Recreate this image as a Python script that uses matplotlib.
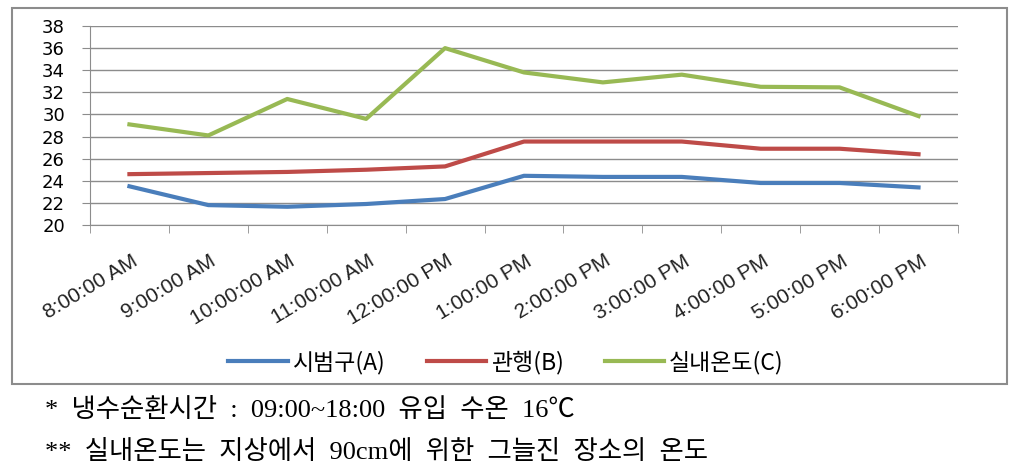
import matplotlib.pyplot as plt
from matplotlib.patches import Rectangle
from matplotlib.transforms import ScaledTranslation

# 데이터
times = ["8:00:00 AM", "9:00:00 AM", "10:00:00 AM", "11:00:00 AM", "12:00:00 PM",
         "1:00:00 PM", "2:00:00 PM", "3:00:00 PM", "4:00:00 PM", "5:00:00 PM", "6:00:00 PM"]
plot_a = [23.5, 21.8, 21.65, 21.9, 22.35, 24.45, 24.35, 24.35, 23.8, 23.8, 23.4]
plot_b = [24.6, 24.7, 24.8, 25.0, 25.3, 27.55, 27.55, 27.55, 26.9, 26.9, 26.4]
plot_c = [29.1, 28.1, 31.4, 29.6, 36.0, 33.8, 32.9, 33.6, 32.5, 32.45, 29.85]
yticks = list(range(20, 39, 2))
note1 = "*\u2002냉수순환시간\u2002:\u200209:00~18:00\u2002유입\u2002수온\u200216℃"
note2 = "**\u2002실내온도는\u2002지상에서\u200290cm에\u2002위한\u2002그늘진\u2002장소의\u2002온도"

plt.rcParams['font.family'] = ['DejaVu Sans', 'Noto Sans CJK KR']

fig = plt.figure(figsize=(10.12, 4.72), dpi=100)
ax = fig.add_axes([0.0889, 0.5233, 0.8577, 0.4216])

x = list(range(len(times)))
ax.plot(x, plot_a, color="#4A7EBB", lw=3, label="시범구(A)")
ax.plot(x, plot_b, color="#BE4B48", lw=3, label="관행(B)")
ax.plot(x, plot_c, color="#98B954", lw=3, label="실내온도(C)")

ax.set_xlim(-0.5, len(times) - 0.5)
ax.set_ylim(20, 38)
ax.set_yticks(yticks)
ax.set_yticklabels([str(v) for v in yticks], fontsize=13)
ax.grid(axis="y", color="#8c8c8c", lw=1)
ax.set_axisbelow(True)

ax.set_xticks(x)
ax.set_xticklabels(times, rotation=31, ha="right", va="top", rotation_mode="anchor",
                   fontsize=15, family=["Liberation Sans"], color="#222222")
ax.tick_params(axis="x", length=0, pad=19)
shift = ScaledTranslation(1 / 72, 0, fig.dpi_scale_trans)
for lab in ax.get_xticklabels():
    lab.set_transform(lab.get_transform() + shift)
ax.set_xticks([i - 0.5 for i in range(len(times) + 1)], minor=True)
ax.tick_params(axis="x", which="minor", length=6, color="#8c8c8c")
ax.tick_params(axis="y", length=6, color="#8c8c8c", pad=12)

for s in ["top", "right"]:
    ax.spines[s].set_visible(False)
for s in ["left", "bottom"]:
    ax.spines[s].set_color("#8c8c8c")

fig.legend(loc="center", bbox_to_anchor=(0.5, 0.233), ncol=3, frameon=False,
           handlelength=2.6, handletextpad=0.2, columnspacing=1.8,
           prop={"family": ["Noto Sans CJK KR"], "size": 16.5})

# 차트 테두리
fig.patches.append(Rectangle((12 / 1012, 1 - 384 / 472), 995 / 1012, 376 / 472,
                             transform=fig.transFigure, fill=False,
                             edgecolor="#8c8c8c", lw=1.5))

note_font = ["Liberation Serif", "Noto Sans CJK KR"]
fig.text(45 / 1012, 1 - 410 / 472, note1, fontsize=19, va="center", family=note_font)
fig.text(45 / 1012, 1 - 452 / 472, note2, fontsize=19, va="center", family=note_font)

fig.savefig("out.png", dpi=100)
